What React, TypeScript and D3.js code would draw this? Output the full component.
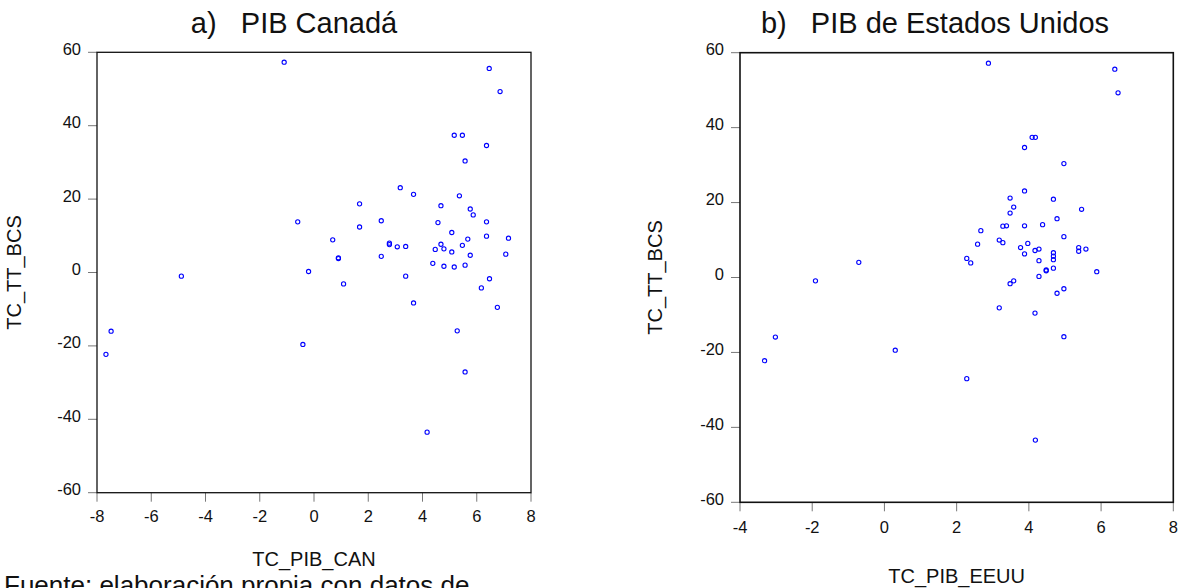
import React from "react";
import * as d3 from "d3";

// Panel a) Canada
const canGdp = [-1.10, 6.46, 6.86, 5.17, 5.47, 6.36, 5.57, 3.18, 3.67, 5.36, 1.68, 4.68, 5.76, 5.87, -0.60, 2.48, 4.57, 6.36, 1.68, 5.08, 6.36, 0.69, 5.67, 7.17, 2.78, 2.78, 4.68, 5.47, 3.07, 3.38, 4.47, 4.79, 5.08, 5.76, 7.07, 0.90, 0.90, 2.48, 4.38, 4.79, 5.17, 5.57, -0.20, -4.89, 3.38, 6.47, 1.09, 6.17, 3.67, 6.76, -7.48, 5.28, -0.41, -7.67, 5.57, 4.17];
const canTT = [57.3, 55.6, 49.3, 37.4, 37.4, 34.6, 30.4, 23.1, 21.3, 20.9, 18.7, 18.2, 17.3, 15.7, 13.8, 14.1, 13.6, 13.8, 12.4, 10.9, 9.9, 8.9, 9.1, 9.35, 8.0, 7.6, 7.7, 7.4, 7.0, 7.1, 6.3, 6.45, 5.6, 4.7, 5.0, 4.0, 3.8, 4.4, 2.5, 1.7, 1.5, 2.0, 0.27, -1.0, -1.0, -1.7, -3.1, -4.2, -8.3, -9.5, -16.0, -15.9, -19.6, -22.3, -27.1, -43.5];

// Panel b) United States
const usGdp = [2.88, 6.38, 6.47, 4.09, 4.18, 3.88, 4.97, 3.88, 3.48, 4.68, 3.58, 3.48, 5.46, 4.78, 2.67, 3.28, 3.38, 3.88, 4.38, 4.97, 3.18, 3.28, 3.97, 2.58, 3.77, 4.17, 4.28, 5.38, 5.38, 5.58, 4.68, 3.88, 4.68, 2.28, 4.68, 4.28, 2.39, -0.71, 4.68, 4.48, 4.48, 5.88, 4.28, -1.91, 3.58, 3.48, 4.97, 4.78, 3.18, 4.17, -3.02, 4.97, 0.30, -3.32, 2.28, 4.18];
const usTT = [57.2, 55.6, 49.3, 37.4, 37.4, 34.7, 30.4, 23.1, 21.2, 20.9, 18.8, 17.2, 18.2, 15.7, 12.5, 13.7, 13.8, 13.8, 14.1, 10.9, 10.0, 9.3, 9.1, 8.9, 8.0, 7.2, 7.6, 8.0, 7.0, 7.6, 6.6, 6.3, 5.7, 5.1, 4.75, 4.5, 3.9, 4.05, 2.5, 2.0, 1.8, 1.55, 0.3, -0.9, -0.9, -1.65, -3.0, -4.2, -8.1, -9.5, -15.9, -15.8, -19.4, -22.2, -27.0, -43.4];

const yTicks = [-60, -40, -20, 0, 20, 40, 60];
const canXTicks = [-8, -6, -4, -2, 0, 2, 4, 6, 8];
const usXTicks = [-4, -2, 0, 2, 4, 6, 8];

const FONT = "'Liberation Sans', Arial, Helvetica, sans-serif";

type PanelProps = {
  xs: number[];
  ys: number[];
  xDomain: [number, number];
  xRange: [number, number];
  yRange: [number, number];
  xTicks: number[];
  title: string;
  titleX: number;
  xLabel: string;
  xLabelY: number;
  yLabelX: number;
  xTickLabelY: number;
  frameWidth: number;
};

function Panel(p: PanelProps) {
  const x = d3.scaleLinear().domain(p.xDomain).range(p.xRange);
  const y = d3.scaleLinear().domain([-60, 60]).range(p.yRange);
  const [x0, x1] = p.xRange;
  const [yb, yt] = p.yRange;
  const cx = (x0 + x1) / 2;
  const cy = (yb + yt) / 2;
  return (
    <g>
      <text x={p.titleX} y={33} textAnchor="middle" fontFamily={FONT} fontSize={29} fill="#111" style={{ whiteSpace: "pre" }}>
        {p.title}
      </text>
      {yTicks.map((t) => (
        <g key={"y" + t}>
          <line x1={x0 - 9} x2={x0} y1={y(t)} y2={y(t)} stroke="#777" strokeWidth={1} />
          <text x={x0 - 16} y={y(t) + 2.5} textAnchor="end" fontFamily={FONT} fontSize={16.5} fill="#111">
            {t}
          </text>
        </g>
      ))}
      {p.xTicks.map((t) => (
        <g key={"x" + t}>
          <line x1={x(t)} x2={x(t)} y1={yb} y2={yb + 9} stroke="#777" strokeWidth={1} />
          <text x={x(t)} y={p.xTickLabelY} textAnchor="middle" fontFamily={FONT} fontSize={16.5} fill="#111">
            {t}
          </text>
        </g>
      ))}
      <rect x={x0} y={yt} width={x1 - x0} height={yb - yt} fill="none" stroke="#111" strokeWidth={p.frameWidth} />
      {p.xs.map((v, i) => (
        <circle key={i} cx={x(v)} cy={y(p.ys[i])} r={2.1} fill="none" stroke="#0000ff" strokeWidth={1.1} />
      ))}
      <text x={cx} y={p.xLabelY} textAnchor="middle" fontFamily={FONT} fontSize={20} fill="#111">
        {p.xLabel}
      </text>
      <text
        transform={`translate(${p.yLabelX},${cy}) rotate(-90)`}
        textAnchor="middle"
        fontFamily={FONT}
        fontSize={20}
        fill="#111"
      >
        TC_TT_BCS
      </text>
    </g>
  );
}

export default function App() {
  return (
    <svg
      width={1180}
      height={588}
      style={{ position: "absolute", left: 0, top: 0, background: "#fff", overflow: "hidden" }}
    >
      <rect x={0} y={0} width={1180} height={588} fill="#fff" />
      <Panel
        xs={canGdp}
        ys={canTT}
        xDomain={[-8, 8]}
        xRange={[97, 531]}
        yRange={[492.7, 52.3]}
        xTicks={canXTicks}
        title={"a)   PIB Canadá"}
        titleX={294}
        xLabel="TC_PIB_CAN"
        xLabelY={566}
        yLabelX={21}
        xTickLabelY={522}
        frameWidth={1.3}
      />
      <Panel
        xs={usGdp}
        ys={usTT}
        xDomain={[-4, 8]}
        xRange={[740, 1173.3]}
        yRange={[502.3, 52.7]}
        xTicks={usXTicks}
        title={"b)   PIB de Estados Unidos"}
        titleX={935}
        xLabel="TC_PIB_EEUU"
        xLabelY={583}
        yLabelX={662}
        xTickLabelY={533}
        frameWidth={1.6}
      />
      <text x={4} y={594} fontFamily={FONT} fontSize={26} fill="#111">
        Fuente: elaboración propia con datos de
      </text>
    </svg>
  );
}
